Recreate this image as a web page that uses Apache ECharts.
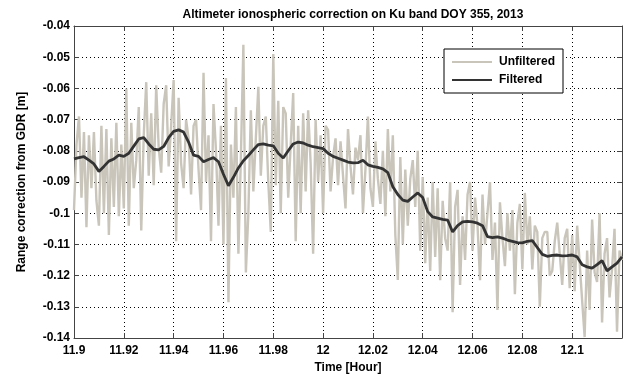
<!DOCTYPE html>
<html>
<head>
<meta charset="utf-8">
<script src="https://cdn.jsdelivr.net/npm/echarts@6/dist/echarts.min.js"></script>
<style>
  html, body { margin: 0; padding: 0; background: #fff; }
  #chart { width: 633px; height: 381px; }
</style>
</head>
<body>
<div id="chart"></div>
<script>
// time axis (hours), sampling of the two series
const startTime = 11.9
const rawStep = 0.001
const filtStep = 0.002

// unfiltered range correction [m], one value every 0.001 h
const unfiltered = [
  -0.099, -0.078, -0.069, -0.095, -0.074, -0.1045, -0.075, -0.092, -0.074, -0.096,
  -0.104, -0.072, -0.1, -0.073, -0.107, -0.076, -0.098, -0.071, -0.101, -0.078,
  -0.0985, -0.060, -0.104, -0.071, -0.092, -0.083, -0.066, -0.1055, -0.075, -0.058,
  -0.088, -0.068, -0.091, -0.059, -0.079, -0.087, -0.065, -0.059, -0.085, -0.072,
  -0.0573, -0.109, -0.063, -0.084, -0.092, -0.070, -0.076, -0.094, -0.072, -0.070,
  -0.086, -0.099, -0.055, -0.090, -0.075, -0.109, -0.065, -0.08, -0.104, -0.072,
  -0.110, -0.0567, -0.1285, -0.078, -0.095, -0.066, -0.113, -0.082, -0.046, -0.119,
  -0.100, -0.067, -0.093, -0.076, -0.0595, -0.088, -0.072, -0.069, -0.090, -0.106,
  -0.049, -0.091, -0.064, -0.100, -0.066, -0.068, -0.095, -0.078, -0.0615, -0.109,
  -0.072, -0.100, -0.068, -0.093, -0.067, -0.084, -0.113, -0.070, -0.090, -0.075,
  -0.100, -0.072, -0.0733, -0.093, -0.082, -0.076, -0.091, -0.077, -0.088, -0.0985,
  -0.073, -0.085, -0.094, -0.079, -0.083, -0.075, -0.1, -0.086, -0.069, -0.092,
  -0.098, -0.077, -0.089, -0.097, -0.080, -0.101, -0.073, -0.093, -0.075, -0.107,
  -0.1214, -0.082, -0.110, -0.086, -0.104, -0.089, -0.083, -0.098, -0.080, -0.112,
  -0.0884, -0.116, -0.095, -0.1185, -0.090, -0.114, -0.092, -0.1215, -0.096, -0.108,
  -0.112, -0.090, -0.1317, -0.098, -0.0925, -0.123, -0.101, -0.115, -0.094, -0.090,
  -0.112, -0.095, -0.104, -0.1215, -0.094, -0.110, -0.100, -0.090, -0.115, -0.103,
  -0.131, -0.0965, -0.108, -0.117, -0.1, -0.112, -0.099, -0.126, -0.103, -0.097,
  -0.118, -0.0935, -0.110, -0.101, -0.118, -0.104, -0.106, -0.130, -0.108, -0.106,
  -0.106, -0.12, -0.1185, -0.109, -0.103, -0.113, -0.123, -0.108, -0.105, -0.124,
  -0.107, -0.125, -0.104, -0.116, -0.128, -0.1397, -0.112, -0.131, -0.102, -0.119,
  -0.122, -0.100, -0.135, -0.113, -0.108, -0.127, -0.118, -0.105, -0.138, -0.112, -0.115
]

// filtered range correction [m], one value every 0.002 h
const filtered = [
  -0.0826, -0.0822, -0.0819, -0.0830, -0.0842, -0.0866, -0.0850, -0.0833, -0.0826, -0.0814,
  -0.0818, -0.0808, -0.0785, -0.0762, -0.0758, -0.0778, -0.0795, -0.0797, -0.0786, -0.0758,
  -0.0738, -0.0733, -0.0740, -0.0772, -0.0814, -0.0818, -0.0835, -0.0828, -0.0822, -0.0835,
  -0.0875, -0.0912, -0.0885, -0.0855, -0.0832, -0.0815, -0.0797, -0.0780, -0.0778, -0.0782,
  -0.0784, -0.0808, -0.0823, -0.0800, -0.0778, -0.0772, -0.0775, -0.0782, -0.0787, -0.0790,
  -0.0793, -0.0808, -0.0818, -0.0824, -0.0830, -0.0836, -0.0839, -0.0838, -0.0830, -0.0845,
  -0.0850, -0.0853, -0.0858, -0.0870, -0.0915, -0.0940, -0.0958, -0.0962, -0.0948, -0.0935,
  -0.0950, -0.0995, -0.1012, -0.1016, -0.1020, -0.1022, -0.1060, -0.1040, -0.1028, -0.1026,
  -0.1028, -0.1032, -0.1040, -0.1075, -0.1078, -0.1076, -0.1080, -0.1086, -0.1090, -0.1094,
  -0.1095, -0.1090, -0.1088, -0.1110, -0.1132, -0.1138, -0.1135, -0.1134, -0.1137, -0.1136,
  -0.1134, -0.1140, -0.1165, -0.1172, -0.1176, -0.1165, -0.1152, -0.1185, -0.1172, -0.1160,
  -0.1140
]

const xMin = 11.9
const xMax = 12.12
const yMin = -0.14
const yMax = -0.04

const rawData = unfiltered.map((v, i) => [startTime + i * rawStep, v])
const filtData = filtered.map((v, i) => [startTime + i * filtStep, v])

const font = 'Liberation Sans, Arial, Helvetica, sans-serif'
const axisColor = '#444'
const rawColor = '#c9c5ba'
const filtColor = '#333'

function tickLabel (v) {
  return String(parseFloat(v.toFixed(2)))
}

const chart = echarts.init(document.getElementById('chart'), null, { renderer: 'canvas' })
chart.setOption({
  animation: false,
  backgroundColor: '#fff',
  title: {
    text: 'Altimeter ionospheric correction on Ku band DOY 355, 2013',
    left: 348,
    textAlign: 'center',
    top: 4,
    textStyle: { fontFamily: font, fontSize: 12, fontWeight: 'bold', color: '#000' }
  },
  legend: {
    orient: 'vertical',
    left: 444,
    top: 49,
    padding: [7, 8, 7, 8],
    itemGap: 6,
    itemWidth: 40,
    itemHeight: 2,
    backgroundColor: '#fff',
    borderColor: '#000',
    borderWidth: 1,
    borderRadius: 0,
    textStyle: { fontFamily: font, fontSize: 12, fontWeight: 'bold', color: '#000', padding: [0, 0, 0, 2] },
    data: [
      { name: 'Unfiltered', icon: 'rect', itemStyle: { color: rawColor } },
      { name: 'Filtered', icon: 'rect', itemStyle: { color: filtColor } }
    ]
  },
  grid: { left: 74, right: 11, top: 26, bottom: 43 },
  xAxis: [{
    type: 'value',
    min: xMin,
    max: xMax,
    interval: 0.02,
    name: 'Time [Hour]',
    nameLocation: 'middle',
    nameGap: 24,
    nameTextStyle: { fontFamily: font, fontSize: 12, fontWeight: 'bold', color: '#000' },
    axisLine: { show: true, lineStyle: { color: axisColor, width: 1 } },
    axisTick: { show: true, inside: true, length: 5, lineStyle: { color: axisColor } },
    axisLabel: {
      margin: 7,
      fontFamily: font, fontSize: 12, fontWeight: 'bold', color: '#000',
      formatter: v => (Math.abs(v - xMax) < 1e-9 ? '' : tickLabel(v))
    },
    splitLine: { show: true, lineStyle: { color: '#000', width: 1, type: [1, 3] } }
  }, {
    type: 'value',
    position: 'top',
    min: xMin,
    max: xMax,
    interval: 0.02,
    axisLine: { show: true, lineStyle: { color: axisColor, width: 1 } },
    axisTick: { show: true, inside: true, length: 5, lineStyle: { color: axisColor } },
    axisLabel: { show: false },
    splitLine: { show: false }
  }],
  yAxis: [{
    type: 'value',
    min: yMin,
    max: yMax,
    interval: 0.01,
    name: 'Range correction from GDR [m]',
    nameLocation: 'middle',
    nameRotate: 90,
    nameGap: 46,
    nameTextStyle: { fontFamily: font, fontSize: 12, fontWeight: 'bold', color: '#000' },
    axisLine: { show: true, lineStyle: { color: axisColor, width: 1 } },
    axisTick: { show: true, inside: true, length: 5, lineStyle: { color: axisColor } },
    axisLabel: {
      margin: 4,
      fontFamily: font, fontSize: 12, fontWeight: 'bold', color: '#000',
      formatter: tickLabel
    },
    splitLine: { show: true, lineStyle: { color: '#000', width: 1, type: [1, 3] } }
  }, {
    type: 'value',
    position: 'right',
    min: yMin,
    max: yMax,
    interval: 0.01,
    axisLine: { show: true, lineStyle: { color: axisColor, width: 1 } },
    axisTick: { show: true, inside: true, length: 5, lineStyle: { color: axisColor } },
    axisLabel: { show: false },
    splitLine: { show: false }
  }],
  series: [{
    name: 'Unfiltered',
    type: 'line',
    data: rawData,
    showSymbol: false,
    symbol: 'none',
    lineStyle: { color: rawColor, width: 2.4 },
    itemStyle: { color: rawColor },
    z: 2
  }, {
    name: 'Filtered',
    type: 'line',
    data: filtData,
    showSymbol: false,
    symbol: 'none',
    lineStyle: { color: filtColor, width: 2.8 },
    itemStyle: { color: filtColor },
    z: 3
  }]
})
</script>
</body>
</html>
